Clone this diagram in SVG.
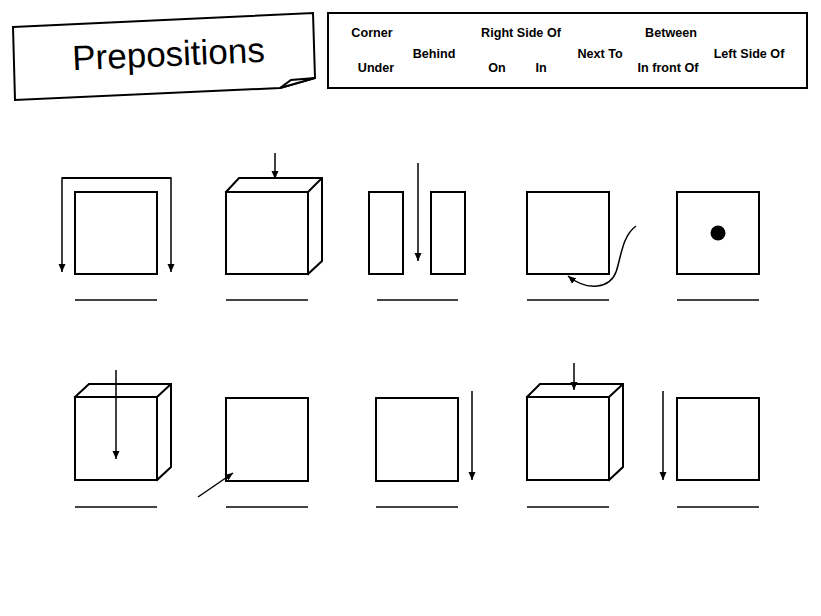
<svg xmlns="http://www.w3.org/2000/svg" width="821" height="616" viewBox="0 0 821 616">
<style>
.sh{fill:#fff;stroke:#000;stroke-width:2;stroke-linejoin:miter}
.ln{fill:none;stroke:#000;stroke-width:2}
.ul{stroke:#444;stroke-width:2}
.ar{fill:none;stroke:#000;stroke-width:1.5;marker-end:url(#ah)}
.wd{font-family:"Liberation Sans",Arial,sans-serif;font-weight:bold;font-size:12.6px;fill:#000;text-anchor:middle}
</style>
<defs>
<marker id="ah" markerUnits="userSpaceOnUse" markerWidth="9" markerHeight="8" refX="8" refY="4" orient="auto">
<path d="M0,0.5 L8,4 L0,7.5 z" fill="#000"/>
</marker>
</defs>
<rect width="821" height="616" fill="#fff"/>

<g id="title">
<path class="sh" stroke-width="1.5" d="M13,27 L313,13 L315,78 L280,88 L15,100 Z"/>
<path class="sh" stroke-width="1.5" d="M280,88 L291,80 L315,78 Z"/>
<text x="169" y="66" transform="rotate(-2.5 169 66)" font-family="Liberation Sans,Arial,sans-serif" font-size="35" text-anchor="middle" fill="#000">Prepositions</text>
</g>

<g id="wordbank">
<rect x="328" y="13" width="479" height="75" fill="#fff" stroke="#000" stroke-width="2"/>
<text class="wd" x="372" y="37">Corner</text>
<text class="wd" x="376" y="72">Under</text>
<text class="wd" x="434" y="58">Behind</text>
<text class="wd" x="521" y="37">Right Side Of</text>
<text class="wd" x="497" y="72">On</text>
<text class="wd" x="541" y="72">In</text>
<text class="wd" x="600" y="58">Next To</text>
<text class="wd" x="671" y="37">Between</text>
<text class="wd" x="668" y="72">In front Of</text>
<text class="wd" x="749" y="58">Left Side Of</text>
</g>

<g id="item1">
<rect class="sh" x="75" y="192" width="82" height="82"/>
<line class="ul" x1="75" y1="300" x2="157" y2="300"/>
</g>
<g id="item2">
<path class="sh" d="M226,192 L239,178 L322,178 L322,261 L308,274 Z"/>
<path class="ln" d="M308,192 L322,178"/>
<rect class="sh" x="226" y="192" width="82" height="82"/>
<line class="ul" x1="226" y1="300" x2="308" y2="300"/>
</g>
<g id="item3">
<rect class="sh" x="369" y="192" width="34" height="82"/>
<rect class="sh" x="431" y="192" width="34" height="82"/>
<line class="ul" x1="377" y1="300" x2="458" y2="300"/>
</g>
<g id="item4">
<rect class="sh" x="527" y="192" width="82" height="82"/>
<line class="ul" x1="527" y1="300" x2="609" y2="300"/>
</g>
<g id="item5">
<rect class="sh" x="677" y="192" width="82" height="82"/>
<circle cx="718" cy="233" r="7.5" fill="#000"/>
<line class="ul" x1="677" y1="300" x2="759" y2="300"/>
</g>

<g id="item6">
<path class="sh" d="M75,397 L89,384 L171,384 L171,467 L157,480 Z"/>
<path class="ln" d="M157,397 L171,384"/>
<rect class="sh" x="75" y="397" width="82" height="83"/>
<line class="ul" x1="75" y1="507" x2="157" y2="507"/>
</g>
<g id="item7">
<rect class="sh" x="226" y="398" width="82" height="83"/>
<line class="ul" x1="226" y1="507" x2="308" y2="507"/>
</g>
<g id="item8">
<rect class="sh" x="376" y="398" width="82" height="83"/>
<line class="ul" x1="376" y1="507" x2="458" y2="507"/>
</g>
<g id="item9">
<path class="sh" d="M527,397 L540,384 L623,384 L623,467 L609,480 Z"/>
<path class="ln" d="M609,397 L623,384"/>
<rect class="sh" x="527" y="397" width="82" height="83"/>
<line class="ul" x1="527" y1="507" x2="609" y2="507"/>
</g>
<g id="item10">
<rect class="sh" x="677" y="398" width="82" height="82"/>
<line class="ul" x1="677" y1="507" x2="759" y2="507"/>
</g>

<g id="connectors">
<path class="ar" d="M117,178 L62,178 L62,272"/>
<path class="ar" d="M117,178 L171,178 L171,272"/>
<line class="ln" x1="62" y1="178" x2="171" y2="178"/>
<path class="ar" d="M275,153 L275,179"/>
<path class="ar" d="M418,163 L418,261"/>
<path class="ar" d="M636,226 C622,236 621,258 616,272 C610,288 588,292 568,276"/>
<path class="ar" d="M116,370 L116,459"/>
<path class="ar" d="M198,497 L233,473"/>
<path class="ar" d="M472,391 L472,480"/>
<path class="ar" d="M574,363 L574,390"/>
<path class="ar" d="M663,391 L663,480"/>
</g>
</svg>
